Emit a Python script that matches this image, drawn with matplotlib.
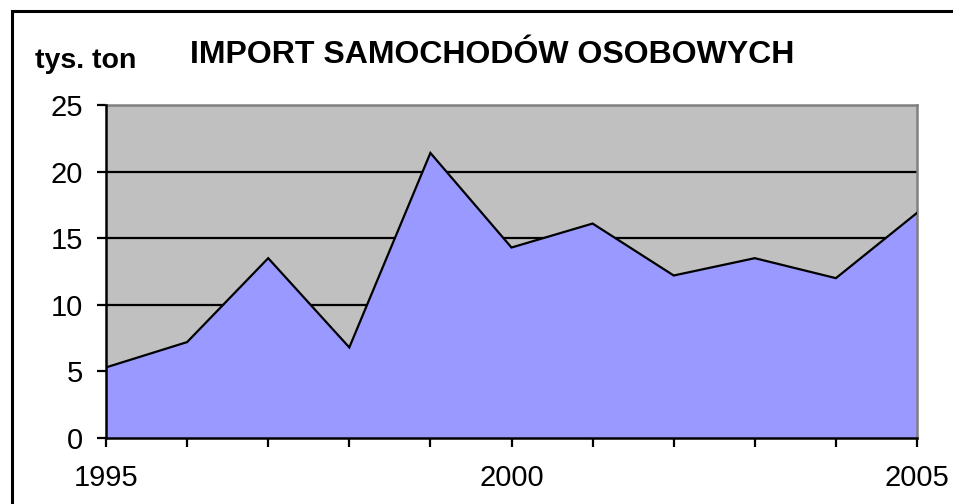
import matplotlib
matplotlib.use("Agg")
import matplotlib.pyplot as plt
from matplotlib.patches import Rectangle

# import of passenger cars, thousand tonnes
years = [1995, 1996, 1997, 1998, 1999, 2000, 2001, 2002, 2003, 2004, 2005]
values = [5.3, 7.2, 13.5, 6.8, 21.4, 14.3, 16.1, 12.2, 13.5, 12.0, 16.9]
yticks = [0, 5, 10, 15, 20, 25]
xlabels = [1995, 2000, 2005]

plt.rcParams['font.family'] = ['Liberation Sans', 'DejaVu Sans']

fig = plt.figure(figsize=(9.54, 5.04), dpi=100)
W, H = 954, 504
ax = fig.add_axes([106 / W, 1 - 438 / H, 811 / W, 333 / H])

ax.set_facecolor('#C0C0C0')
ax.fill_between(years, values, 0, color='#9999FF', zorder=2, linewidth=0)
ax.plot(years, values, color='black', linewidth=1.6, zorder=3, solid_joinstyle='miter')

for v in yticks[1:-1]:
    ax.axhline(v, color='black', linewidth=1.6, zorder=1)

ax.set_xlim(years[0], years[-1])
ax.set_ylim(0, 25)
ax.set_yticks(yticks)
ax.set_xticks(years)
ax.set_xticklabels([str(y) if y in xlabels else '' for y in years])
ax.tick_params(axis='both', direction='out', length=6.5, width=1.6, color='black',
               labelsize=21)
ax.tick_params(axis='y', pad=10)
ax.tick_params(axis='x', pad=12)

for side in ['top', 'right']:
    ax.spines[side].set_color('#808080')
    ax.spines[side].set_linewidth(1.8)
for side in ['left', 'bottom']:
    ax.spines[side].set_color('black')
    ax.spines[side].set_linewidth(1.8)
    ax.spines[side].set_zorder(4)

fig.text(190 / W, 1 - 55 / H, 'IMPORT SAMOCHODÓW OSOBOWYCH', fontsize=23,
         fontweight='bold', va='center', ha='left')
fig.text(35 / W, 1 - 61 / H, 'tys. ton', fontsize=20.5, fontweight='bold',
         va='center', ha='left')

# outer chart frame (runs off the right and bottom edges of the image)
fig.patches.append(Rectangle((12 / W, -0.05), 1.0, 1.05 - 11 / H,
                             transform=fig.transFigure, fill=False,
                             edgecolor='black', linewidth=2.2))

fig.savefig('out.png', dpi=100)
